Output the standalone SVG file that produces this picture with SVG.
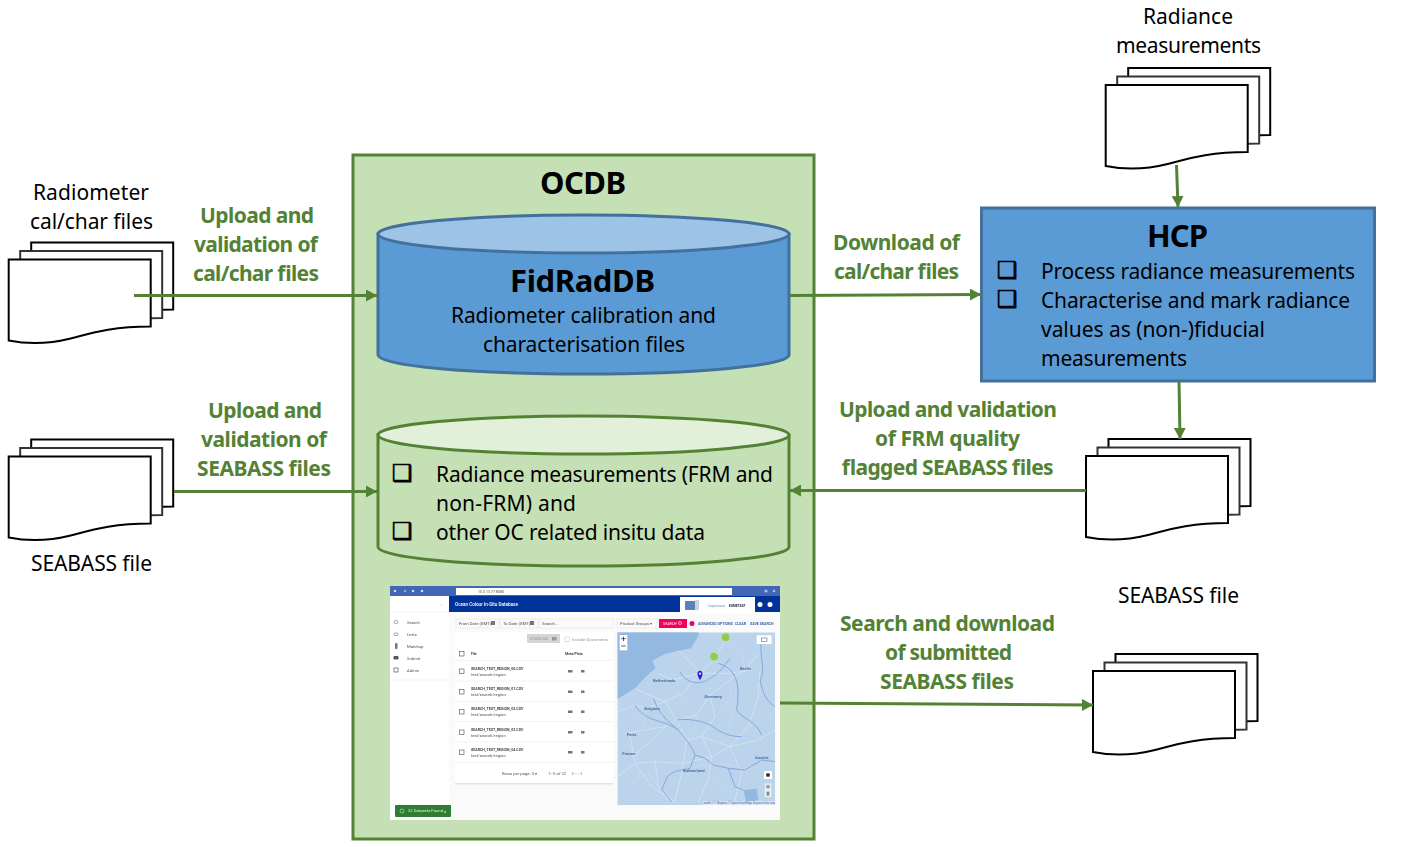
<svg xmlns="http://www.w3.org/2000/svg" xmlns:xlink="http://www.w3.org/1999/xlink" width="1406" height="847" viewBox="0 0 1406 847">
<style>
text{font-family:"Noto Sans","Open Sans","Liberation Sans",sans-serif;font-size:21px;fill:#000}
.g{font-weight:700;fill:#548235}
.h{font-weight:700;font-size:31px}
.cb{font-family:"DejaVu Sans",sans-serif;font-size:23px;stroke:#000;stroke-width:.7}
.doc{fill:#fff;stroke:#000;stroke-width:2}
.c{fill:none;stroke:#548235;stroke-width:3;marker-end:url(#ah)}
.s{font-family:Roboto,"Liberation Sans",sans-serif;font-size:4.2px;fill:#555}
.sb{font-family:Roboto,"Liberation Sans",sans-serif;font-size:3.6px;font-weight:700;fill:#444}
.sw{font-family:Roboto,"Liberation Sans",sans-serif;font-size:4.6px;font-weight:500;fill:#fff}
.sl{font-family:Roboto,"Liberation Sans",sans-serif;font-size:3.6px;font-weight:700;fill:#3f5fa8}
.ml{font-family:Roboto,"Liberation Sans",sans-serif;font-size:4.2px;fill:#4f719e}
.rowline{stroke:#eee;stroke-width:.7}
.cbx{fill:#fff;stroke:#666;stroke-width:.7}
.ib{fill:#777}
.bd{fill:none;stroke:#dde8f5;stroke-width:2}
.bd2{fill:none;stroke:#cfdff1;stroke-width:1.500}
.rv{fill:none;stroke:#7FAADD;stroke-width:3}
</style>
<defs>
<marker id="ah" markerUnits="userSpaceOnUse" markerWidth="12" markerHeight="12" refX="11" refY="6" orient="auto"><path d="M0 0L11 6L0 12Z" fill="#548235"/></marker>
<path id="d" d="M0 0H142V67C105 67 85 73 62 79C42 84 20 85 0 81Z"/>
<g id="stack">
<use xlink:href="#d" class="doc" x="22.500" y="-17"/>
<use xlink:href="#d" class="doc" x="11.500" y="-8.500" style="stroke:#333"/>
<use xlink:href="#d" class="doc"/>
</g>
<filter id="soft" x="0" y="0" width="100%" height="100%"><feGaussianBlur stdDeviation=".35"/></filter>
<clipPath id="mapclip"><rect x="7" y="7" width="473" height="518"/></clipPath>
</defs>
<rect width="1406" height="847" fill="#fff"/>

<g id="ocdb">
<rect x="353" y="155" width="461" height="684" fill="#C5E0B4" stroke="#548235" stroke-width="3"/>
<text class="h" x="540" y="194" textLength="86">OCDB</text>
</g>

<g id="fidraddb">
<path d="M378 234V355C378 365.500 470 374 583.500 374S789 365.500 789 355V234Z" fill="#5B9BD5" stroke="#41719C" stroke-width="3"/>
<ellipse cx="583.500" cy="234" rx="205.500" ry="19" fill="#9DC3E6" stroke="#41719C" stroke-width="3"/>
<text class="h" x="510" y="292" textLength="145">FidRadDB</text>
<text x="451" y="323" textLength="265">Radiometer calibration and</text>
<text x="483" y="352" textLength="202">characterisation files</text>
</g>

<g id="insitu-db">
<path d="M378 435V547C378 557.500 470 566 583.500 566S789 557.500 789 547V435Z" fill="#C5E0B4" stroke="#548235" stroke-width="3"/>
<ellipse cx="583.500" cy="435" rx="205.500" ry="19" fill="#E2F0D9" stroke="#548235" stroke-width="3"/>
<text class="cb" x="392" y="481">❑</text>
<text x="436" y="482" textLength="337">Radiance measurements (FRM and</text>
<text x="436" y="511" textLength="140">non-FRM) and</text>
<text class="cb" x="392" y="539">❑</text>
<text x="436" y="540" textLength="269">other OC related insitu data</text>
</g>

<g id="hcp">
<rect x="981.500" y="208" width="393" height="173" fill="#5B9BD5" stroke="#41719C" stroke-width="3"/>
<text class="h" x="1147" y="247" textLength="61">HCP</text>
<text class="cb" x="997" y="278">❑</text>
<text x="1041" y="279" textLength="314">Process radiance measurements</text>
<text class="cb" x="997" y="307">❑</text>
<text x="1041" y="308" textLength="309">Characterise and mark radiance</text>
<text x="1041" y="337" textLength="224">values as (non-)fiducial</text>
<text x="1041" y="366" textLength="146">measurements</text>
</g>

<g id="doc-radiometer">
<use xlink:href="#stack" x="8.700" y="259.500"/>
<text x="33" y="200" textLength="116">Radiometer</text>
<text x="30" y="229" textLength="123">cal/char files</text>
</g>
<g id="doc-seabass-in">
<use xlink:href="#stack" x="8.700" y="456.500"/>
<text x="31" y="571" textLength="121">SEABASS file</text>
</g>
<g id="doc-radiance">
<use xlink:href="#stack" x="1105.700" y="85"/>
<text x="1143" y="24" textLength="90">Radiance</text>
<text x="1116" y="53" textLength="145">measurements</text>
</g>
<g id="doc-flagged">
<use xlink:href="#stack" x="1086" y="456"/>
</g>
<g id="doc-seabass-out">
<use xlink:href="#stack" x="1093" y="671"/>
<text x="1118" y="603" textLength="121">SEABASS file</text>
</g>

<g id="connectors">
<path class="c" d="M134 295.500H377"/>
<path class="c" d="M789 295.500L981 294.500"/>
<path class="c" d="M174 491.500H377"/>
<path class="c" d="M1086 490.500H790"/>
<path class="c" d="M780 703L1093 705"/>
<path class="c" d="M1176.500 165L1178 207"/>
<path class="c" d="M1179 381L1180 439"/>
</g>

<g id="connector-labels">
<text class="g" x="200" y="223" textLength="114">Upload and</text>
<text class="g" x="194" y="252" textLength="124">validation of</text>
<text class="g" x="193" y="281" textLength="126">cal/char files</text>
<text class="g" x="833" y="250" textLength="127">Download of</text>
<text class="g" x="834" y="279" textLength="125">cal/char files</text>
<text class="g" x="208" y="418" textLength="114">Upload and</text>
<text class="g" x="201" y="447" textLength="126">validation of</text>
<text class="g" x="197" y="476" textLength="134">SEABASS files</text>
<text class="g" x="839" y="417" textLength="218">Upload and validation</text>
<text class="g" x="875" y="446" textLength="145">of FRM quality</text>
<text class="g" x="841" y="475" textLength="212">flagged SEABASS files</text>
<text class="g" x="840" y="631" textLength="215">Search and download</text>
<text class="g" x="885" y="660" textLength="127">of submitted</text>
<text class="g" x="880" y="689" textLength="134">SEABASS files</text>
</g>

<g id="screenshot" filter="url(#soft)">
<rect x="390" y="586" width="390" height="234" fill="#fafafa"/>
<rect x="390" y="586" width="390" height="10" fill="#3F66B5"/>
<rect x="456" y="588" width="276" height="7" fill="#fff"/>
<text class="s" x="478" y="593" style="font-size:3.600px">10.3.13.77:8080</text>
<circle cx="395" cy="591" r="1.300" fill="#cfd9ee"/><circle cx="405" cy="591" r="1.300" fill="#8ea5d6"/><circle cx="413" cy="591" r="1.300" fill="#cfd9ee"/><circle cx="422" cy="591" r="1.300" fill="#cfd9ee"/>
<circle cx="766" cy="591" r="1.600" fill="#a9bbe0"/><circle cx="774" cy="591" r="1.300" fill="#a9bbe0"/>
<rect x="449" y="596" width="331" height="16" fill="#003399"/>
<text class="sw" x="455" y="606">Ocean Colour In-Situ Database</text>
<rect x="680" y="597" width="75" height="16" fill="#fff"/>
<rect x="685" y="601" width="14" height="9" fill="#5e7fb8"/>
<rect x="695" y="600" width="4" height="10" fill="#c9d3e3"/>
<text class="s" x="708" y="607" style="fill:#6c8fc0;font-size:3.400px">Copernicus</text>
<text class="sb" x="729" y="606.500" style="fill:#223;font-size:3.200px">EUMETSAT</text>
<circle cx="760" cy="604.500" r="2.500" fill="#fff"/><circle cx="770" cy="604.500" r="2.500" fill="#fff"/>
<rect x="390" y="596" width="59" height="224" fill="#fff"/>
<line x1="390" y1="612" x2="449" y2="612" class="rowline"/>
<line x1="390" y1="680" x2="449" y2="680" class="rowline"/>
<text class="s" x="441" y="606">‹</text>
<circle cx="396" cy="622" r="1.800" fill="none" stroke="#777" stroke-width=".6"/><text class="s" x="407" y="624">Search</text>
<rect x="394" y="633" width="4" height="2.500" rx="1" fill="none" stroke="#777" stroke-width=".6"/><text class="s" x="407" y="636">Links</text>
<rect x="395" y="643" width="2.500" height="6" rx="1" class="ib"/><text class="s" x="407" y="648">Matchup</text>
<rect x="393.500" y="656" width="5" height="3.500" rx="1" fill="#555"/><text class="s" x="407" y="660">Submit</text>
<rect x="394" y="668" width="4" height="4" fill="none" stroke="#555" stroke-width=".7"/><text class="s" x="407" y="672">Admin</text>
<rect x="456" y="619" width="43" height="9" fill="#fafafa" stroke="#e3e3e3" stroke-width=".6"/><text class="s" x="459" y="625">From Date (GMT)</text><rect x="491" y="621" width="4" height="4" class="ib"/>
<rect x="500" y="619" width="38" height="9" fill="#fafafa" stroke="#e3e3e3" stroke-width=".6"/><text class="s" x="503" y="625">To Date (GMT)</text><rect x="530" y="621" width="4" height="4" class="ib"/>
<rect x="539" y="619" width="74" height="9" fill="#fafafa" stroke="#e3e3e3" stroke-width=".6"/><text class="s" x="542" y="625">Search...</text>
<rect x="617" y="619" width="40" height="9" fill="#fafafa" stroke="#e3e3e3" stroke-width=".6"/><text class="s" x="620" y="625">Product Groups ▾</text>
<rect x="659" y="619" width="28" height="9" fill="#F50057"/><text class="s" x="663" y="625" style="fill:#fff;font-size:3.600px">SEARCH</text><circle cx="680" cy="623" r="1.500" fill="none" stroke="#fff" stroke-width=".6"/>
<circle cx="692" cy="623.500" r="2.500" fill="#F50057"/>
<text class="sl" x="698" y="625">ADVANCED OPTIONS</text>
<text class="sl" x="735" y="625">CLEAR</text>
<text class="sl" x="750" y="625">SAVE SEARCH</text>
<rect x="455" y="632" width="158" height="152" fill="#fff"/>
<rect x="455" y="783" width="158" height="1.500" fill="#e3e3e3"/>
<rect x="527" y="634" width="33" height="9" fill="#d5d5d5"/><text class="s" x="530" y="640" style="font-size:3.400px;fill:#999">DOWNLOAD</text><rect x="552" y="637" width="4.500" height="3.500" fill="#999"/>
<rect x="565" y="637" width="4.500" height="4.500" fill="#fff" stroke="#ccc" stroke-width=".6"/><text class="s" x="572" y="641" style="fill:#999">Include Documents</text>
<rect x="459.500" y="651.500" width="4.500" height="4.500" class="cbx"/><text class="sb" x="471" y="655">File</text><text class="sb" x="565" y="655">Meta/Plots</text>
<g id="rows">
<line x1="455" y1="660.500" x2="613" y2="660.500" class="rowline"/>
<rect x="459.500" y="669" width="4.500" height="4.500" class="cbx"/><text class="sb" x="471" y="669.500">SEARCH_TEST_REGION_00.CSV</text><text class="s" x="471" y="675.500">test/search/region</text><rect x="568" y="670" width="4.500" height="2.500" class="ib"/><rect x="581" y="670" width="3.500" height="2.500" class="ib"/>
<line x1="455" y1="681" x2="613" y2="681" class="rowline"/>
<rect x="459.500" y="689.500" width="4.500" height="4.500" class="cbx"/><text class="sb" x="471" y="690">SEARCH_TEST_REGION_01.CSV</text><text class="s" x="471" y="696">test/search/region</text><rect x="568" y="690.500" width="4.500" height="2.500" class="ib"/><rect x="581" y="690.500" width="3.500" height="2.500" class="ib"/>
<line x1="455" y1="701.500" x2="613" y2="701.500" class="rowline"/>
<rect x="459.500" y="709.500" width="4.500" height="4.500" class="cbx"/><text class="sb" x="471" y="710">SEARCH_TEST_REGION_02.CSV</text><text class="s" x="471" y="716">test/search/region</text><rect x="568" y="710.500" width="4.500" height="2.500" class="ib"/><rect x="581" y="710.500" width="3.500" height="2.500" class="ib"/>
<line x1="455" y1="721.500" x2="613" y2="721.500" class="rowline"/>
<rect x="459.500" y="730" width="4.500" height="4.500" class="cbx"/><text class="sb" x="471" y="730.500">SEARCH_TEST_REGION_03.CSV</text><text class="s" x="471" y="736.500">test/search/region</text><rect x="568" y="731" width="4.500" height="2.500" class="ib"/><rect x="581" y="731" width="3.500" height="2.500" class="ib"/>
<line x1="455" y1="742" x2="613" y2="742" class="rowline"/>
<rect x="459.500" y="750" width="4.500" height="4.500" class="cbx"/><text class="sb" x="471" y="750.500">SEARCH_TEST_REGION_04.CSV</text><text class="s" x="471" y="756.500">test/search/region</text><rect x="568" y="751" width="4.500" height="2.500" class="ib"/><rect x="581" y="751" width="3.500" height="2.500" class="ib"/>
<line x1="455" y1="762.500" x2="613" y2="762.500" class="rowline"/>
</g>
<text class="s" x="502" y="774.500">Rows per page:</text><text class="s" x="532" y="774.500">5 ▾</text><text class="s" x="548" y="774.500">1–5 of 22</text><text class="s" x="572" y="774.500">|‹   ‹   ›   ›|</text>

<g transform="translate(615 630) scale(.3333)" clip-path="url(#mapclip)">
<rect x="7" y="7" width="473" height="518" fill="#BCD3EC"/>
<path d="M7 7H250L252 15L228 55L190 62L150 72L112 92L122 115L92 140L60 175L7 208Z" fill="#93B9E0"/>
<path d="M385 480L425 476L430 510L395 520Z" fill="#93B9E0"/>
<g class="roads">
<path class="bd" d="M7 245L60 225L95 235L150 215L205 190L255 130L300 85L335 25"/>
<path class="bd" d="M60 175L100 195L150 215L185 270L245 255L285 195L345 150L390 120L430 70"/>
<path class="bd" d="M30 310L90 300L150 290L185 270L215 330L260 320L345 350L430 330L480 300"/>
<path class="bd" d="M130 130L170 150L255 130L340 130L410 120M190 62L230 100L255 130"/>
<path class="bd" d="M50 380L100 340L150 290M45 315L60 400L110 470L180 515M215 330L205 400L200 430L180 515"/>
<path class="bd" d="M260 320L290 380L345 350L400 290L430 200L435 120M345 350L380 430L360 510M285 195L300 260L260 320"/>
<path class="bd" d="M7 440L60 400L120 395L205 400L290 380M120 395L130 470L160 510M290 380L280 450L250 515"/>
<path class="bd2" d="M7 280L50 265L95 235L85 290L45 315M120 200L140 260L150 290M185 180L220 230L245 255L240 300L215 330M330 90L350 150L345 210L300 260M400 170L355 230L345 280L345 350M60 450L100 430L130 470M240 410L330 400L390 420L470 400M400 290L470 260M20 340L55 360L80 420L40 480M300 440L330 490M430 200L470 170M340 30L380 70L390 120"/>
<path class="rv" d="M157 440C175 420 205 420 225 415L240 375L270 385L295 405L340 415L390 420L440 390L480 395"/>
<path class="rv" d="M240 375C230 345 205 320 190 300L155 270L130 240L115 205"/>
<path class="rv" d="M60 225C75 250 90 255 105 265C135 275 160 280 190 300"/>
<path class="rv" d="M185 270C215 265 260 270 295 290C320 310 345 320 380 320"/>
<path class="rv" d="M310 100C355 115 380 145 365 240C380 265 420 270 440 315"/>
<path class="rv" d="M440 30C430 70 455 120 435 150C445 190 450 210 480 230"/>
<path class="rv" d="M195 125C215 165 260 165 285 145C315 130 330 105 345 85"/>
<path class="rv" d="M157 440L140 480L170 515M340 415L360 470L385 480"/>
</g>
<text class="ml" x="113" y="155" transform="scale(1)" style="font-size:12.500px;font-weight:700">Netherlands</text>
<text class="ml" x="268" y="203" style="font-size:13px;font-weight:700">Germany</text>
<text class="ml" x="88" y="240" style="font-size:12.500px;font-weight:700">Belgium</text>
<text class="ml" x="35" y="317" style="font-size:12.500px;font-weight:700">Paris</text>
<text class="ml" x="22" y="376" style="font-size:13px;font-weight:700">France</text>
<text class="ml" x="203" y="427" style="font-size:12.500px;font-weight:700">Switzerland</text>
<text class="ml" x="375" y="119" style="font-size:12.500px;font-weight:700">Berlin</text>
<text class="ml" x="420" y="386" style="font-size:12.500px;font-weight:700">Austria</text>
<rect x="14" y="15" width="23" height="46" fill="#fff"/><path d="M19 26H32M25.500 20V33M19 48H32" stroke="#333" stroke-width="2.500" fill="none"/>
<rect x="425" y="16" width="45" height="26" fill="#fff"/><rect x="440" y="24" width="16" height="11" fill="none" stroke="#5a7ca8" stroke-width="2"/>
<circle cx="332" cy="22" r="13" fill="#8FCB5A" stroke="#bfe3a0" stroke-width="3"/><circle cx="297" cy="80" r="13" fill="#8FCB5A" stroke="#bfe3a0" stroke-width="3"/>
<path d="M255 150C244 134 246 122 255 122C264 122 266 134 255 150Z" fill="#2A1FD0"/><circle cx="255" cy="131" r="3.500" fill="#d8d4ff"/>
<rect x="447" y="423" width="24" height="24" fill="#fff"/><rect x="454" y="430" width="10" height="10" fill="#222"/>
<rect x="449" y="460" width="20" height="42" fill="#e8edf4"/><rect x="454" y="465" width="10" height="10" fill="#999"/><rect x="455" y="485" width="8" height="12" fill="#888"/>
<rect x="260" y="513" width="220" height="12" fill="#dbe6f3"/>
<text class="ml" x="262" y="522" style="font-size:9px">Leaflet | © Mapbox © OpenStreetMap Improve this map</text>
</g>
<rect x="395" y="805" width="56" height="12" rx="1" fill="#2E7D32"/>
<circle cx="402" cy="811" r="2" fill="none" stroke="#cfe8cf" stroke-width=".6"/>
<text class="s" x="408" y="812" style="fill:#d9f0d9">22 Datasets Found</text>
<text class="s" x="444" y="813" style="fill:#fff">×</text>
</g>
</svg>
